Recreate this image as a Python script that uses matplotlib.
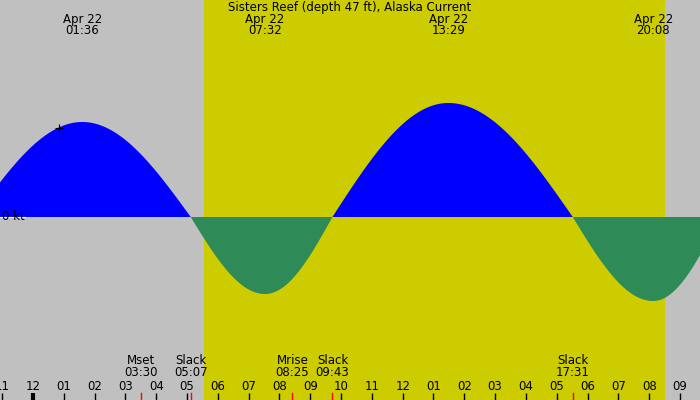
import numpy as np
import matplotlib
matplotlib.use("Agg")
import matplotlib.pyplot as plt

# current events: hours since midnight Apr 22, speed in knots
ev_hours = [-1.9, 1.6, 5.12, 7.53, 9.72, 13.48, 17.52, 20.13, 22.3]
ev_speed = [0.0, 1.9, 0.0, -1.54, 0.0, 2.28, 0.0, -1.68, 0.0]

top_hours = [1.6, 7.53, 13.48, 20.13]
top_labels = ["01:36", "07:32", "13:29", "20:08"]

bot_hours = [3.5, 5.12, 8.42, 9.72, 17.52]
bot_names = ["Mset", "Slack", "Mrise", "Slack", "Slack"]
bot_times = ["03:30", "05:07", "08:25", "09:43", "17:31"]

tick_hours = list(range(-1, 22))
tick_labels = ["11", "12", "01", "02", "03", "04", "05", "06", "07", "08", "09", "10",
               "11", "12", "01", "02", "03", "04", "05", "06", "07", "08", "09"]

sunrise, sunset = 5.55, 20.5
x0, x1 = -1.07, 21.65
ppk = 50.0  # pixels per knot
zero_px = 217

fig = plt.figure(figsize=(7, 4), dpi=100)
fig.patch.set_facecolor("#c0c0c0")
ax = fig.add_axes([0, 0, 1, 1])
ax.set_facecolor("#c0c0c0")
ax.set_xlim(x0, x1)
ax.set_ylim(-(400 - zero_px) / ppk, zero_px / ppk)
ax.axis("off")

ax.axvspan(sunrise, sunset, color="#cccc00", lw=0)

# quarter-sine segments between slack and extreme
t = np.linspace(x0, x1, 2000)
v = np.zeros_like(t)
for i in range(len(ev_hours) - 1):
    a, b = ev_hours[i], ev_hours[i + 1]
    m = (t >= a) & (t <= b)
    f = (t[m] - a) / (b - a)
    if ev_speed[i] == 0:
        v[m] = ev_speed[i + 1] * np.sin(np.pi / 2 * f)
    else:
        v[m] = ev_speed[i] * np.cos(np.pi / 2 * f)
ax.fill_between(t, 0, v, where=v >= 0, color="#0000ff", lw=0, interpolate=True)
ax.fill_between(t, 0, v, where=v <= 0, color="#2e8b57", lw=0, interpolate=True)
ax.axhline(0, color="white", lw=0.8, xmin=0, xmax=0.035)

tr = ax.get_xaxis_transform()
fs = 8.5
def py(p):
    return 1 - p / 400.0

ax.text((x0 + x1) / 2, py(7), "Sisters Reef (depth 47 ft), Alaska Current", transform=tr,
        ha="center", va="center", fontsize=fs)
for h, lab in zip(top_hours, top_labels):
    ax.text(h, py(19), "Apr 22", transform=tr, ha="center", va="center", fontsize=fs)
    ax.text(h, py(31), lab, transform=tr, ha="center", va="center", fontsize=fs)
ax.text(x0 + 0.05, 0, "0 kt", ha="left", va="center", fontsize=fs)
ax.plot(0.85, 1.78, marker="+", color="black", ms=6, mew=0.8)

for h, n, tm in zip(bot_hours, bot_names, bot_times):
    ax.text(h, py(361), n, transform=tr, ha="center", va="center", fontsize=fs)
    ax.text(h, py(373), tm, transform=tr, ha="center", va="center", fontsize=fs)
    ax.plot([h, h], [py(393), py(400)], transform=tr, color="red", lw=1)

for h, lab in zip(tick_hours, tick_labels):
    ax.text(h, py(386), lab, transform=tr, ha="center", va="center", fontsize=fs)
    ax.plot([h, h], [py(393), py(400)], transform=tr, color="black",
            lw=3 if h == 0 else 1, solid_capstyle="butt")

fig.savefig("out.png", dpi=100, facecolor=fig.get_facecolor())
